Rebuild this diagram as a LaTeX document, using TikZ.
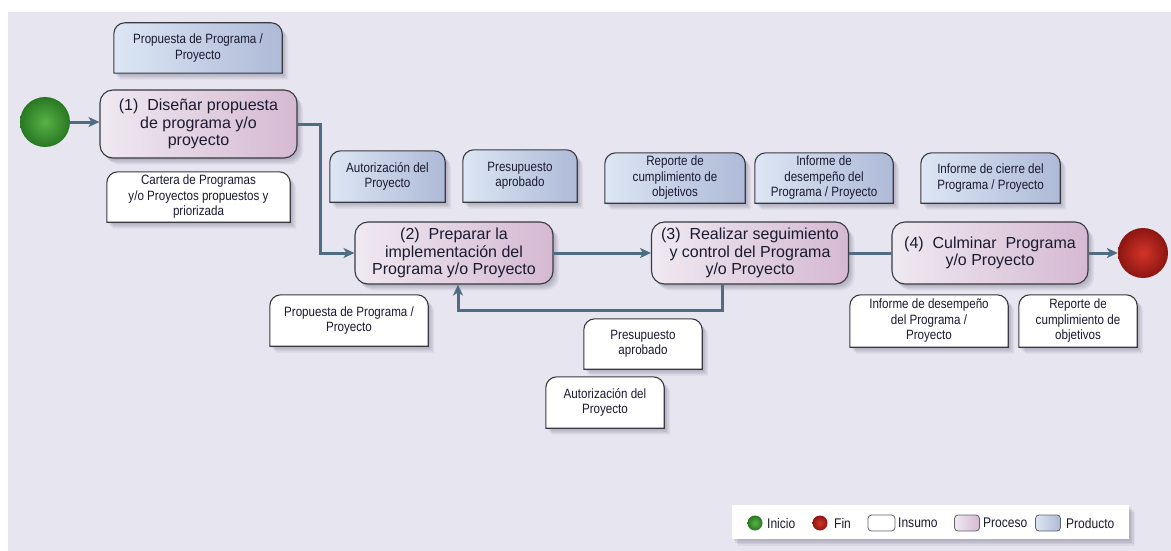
\documentclass[tikz,border=0pt]{standalone}
\usepackage{fontspec}
\setmainfont{Liberation Sans}
\newfontfamily\narrowsans{Liberation Sans}[FakeStretch=0.86]
\usetikzlibrary{arrows.meta}

\definecolor{bgfill}{HTML}{E7E5F0}
\definecolor{edge}{HTML}{3A3A42}
\definecolor{prodL}{HTML}{DCE6F4}
\definecolor{prodR}{HTML}{AEBAD7}
\definecolor{procL}{HTML}{EFE9F1}
\definecolor{procR}{HTML}{D5B9D2}
\definecolor{link}{HTML}{4E6C82}
\definecolor{ink}{HTML}{1A1A30}
\definecolor{shade}{HTML}{55556A}

\pgfdeclarelayer{back}
\pgfdeclarelayer{boxes}
\pgfsetlayers{back,boxes,main}

\tikzset{
  % soft drop shadow built from a few offset translucent copies
  softshadow/.style={
    preaction={fill=shade, opacity=.10, transform canvas={xshift=1.5pt, yshift=-2pt}},
    preaction={fill=shade, opacity=.10, transform canvas={xshift=3pt, yshift=-3.5pt}},
    preaction={fill=shade, opacity=.10, transform canvas={xshift=4.5pt, yshift=-5pt}},
    preaction={fill=shade, opacity=.08, transform canvas={xshift=6pt, yshift=-6.5pt}}},
  boxtext/.style={inner sep=0pt, align=center, text=ink,
      font=\narrowsans\fontsize{13.5}{15.5}\selectfont},
  process/.style={draw=edge, line width=1.1pt, rounded corners=13pt,
      left color=procL, right color=procR, softshadow, inner sep=0pt,
      align=center, text=ink, font=\fontsize{16}{17.5}\selectfont},
  prodfill/.style={left color=prodL, right color=prodR},
  inputfill/.style={fill=white},
  conn/.style={draw=link, line width=3pt},
  arrowed/.style={conn, -{Stealth[length=11pt,width=10pt,inset=3pt]}},
  legendtext/.style={anchor=west, inner sep=0pt, text=ink,
      font=\narrowsans\fontsize{14}{16}\selectfont},
  swatch/.style={draw=edge!80, line width=0.8pt, rounded corners=3.5pt,
      minimum width=25pt, minimum height=16pt, inner sep=0pt},
  startball/.style={circle, inner sep=0pt, inner color={rgb,255:red,88;green,178;blue,70},
      outer color={rgb,255:red,40;green,120;blue,34}},
  endball/.style={circle, inner sep=0pt, inner color={rgb,255:red,210;green,52;blue,42},
      outer color={rgb,255:red,140;green,22;blue,16}},
}

% box with rounded top corners and square bottom, drawn behind its text node
\newcommand\tabshape[2]{%
  \begin{pgfonlayer}{boxes}
    \path[draw=edge, line width=1.1pt, softshadow, #2]
      (#1.south west) -- ([yshift=-11pt]#1.north west)
      arc[start angle=180, end angle=90, radius=11pt]
      -- ([xshift=-11pt]#1.north east)
      arc[start angle=90, end angle=0, radius=11pt]
      -- (#1.south east) -- cycle;
  \end{pgfonlayer}}

\begin{document}
\begin{tikzpicture}[x=1pt, y=-1pt]
\useasboundingbox (0,0) rectangle (1171,551);
\begin{pgfonlayer}{back}
  \fill[bgfill] (8,12) rectangle (1171,551);
\end{pgfonlayer}

% start and end
\node[startball, minimum size=50pt] (start) at (45,122) {};
\node[endball, minimum size=50pt] (finish) at (1143,253) {};

% processes
\node[process, minimum width=197pt, minimum height=68pt] (b1) at (198.5,124)
  {(1)\ \ Diseñar propuesta\\de programa y/o\\proyecto};
\node[process, minimum width=198pt, minimum height=62pt] (b2) at (454,253)
  {(2)\ \ Preparar la\\implementación del\\Programa y/o Proyecto};
\node[process, minimum width=197pt, minimum height=62pt] (b3) at (750,253)
  {(3)\ \ Realizar seguimiento\\y control del Programa\\y/o Proyecto};
\node[process, minimum width=196pt, minimum height=62pt] (b4) at (990,253)
  {(4)\ \ Culminar\ \ Programa\\y/o Proyecto};

% products
\node[boxtext, minimum width=168pt, minimum height=50pt] (p0) at (198,48)
  {Propuesta de Programa /\\Proyecto};
\node[boxtext, minimum width=115pt, minimum height=51pt] (p1) at (387.5,176.5)
  {Autorización del\\Proyecto};
\node[boxtext, minimum width=114pt, minimum height=52pt] (p2) at (520,176)
  {Presupuesto\\aprobado};
\node[boxtext, minimum width=140pt, minimum height=50pt] (p3) at (675,178)
  {Reporte de\\cumplimiento de\\objetivos};
\node[boxtext, minimum width=138pt, minimum height=50pt] (p4) at (824,178)
  {Informe de\\desempeño del\\Programa / Proyecto};
\node[boxtext, minimum width=139pt, minimum height=50pt] (p5) at (990.5,178)
  {Informe de cierre del\\Programa / Proyecto};
\foreach \n in {p0,p1,p2,p3,p4,p5} {\tabshape{\n}{prodfill}}

% inputs
\node[boxtext, minimum width=183pt, minimum height=50pt] (i1) at (198.5,197)
  {Cartera de Programas\\y/o Proyectos propuestos y\\priorizada};
\node[boxtext, minimum width=158pt, minimum height=51pt] (i2) at (349,320.5)
  {Propuesta de Programa /\\Proyecto};
\node[boxtext, minimum width=118pt, minimum height=50pt] (i3) at (643,344)
  {Presupuesto\\aprobado};
\node[boxtext, minimum width=118pt, minimum height=51pt] (i4) at (605,402.5)
  {Autorización del\\Proyecto};
\node[boxtext, minimum width=158pt, minimum height=52pt] (i5) at (929,321)
  {Informe de desempeño\\del Programa /\\Proyecto};
\node[boxtext, minimum width=118pt, minimum height=52pt] (i6) at (1078,321)
  {Reporte de\\cumplimiento de\\objetivos};
\foreach \n in {i1,i2,i3,i4,i5,i6} {\tabshape{\n}{inputfill}}

% flow
\draw[arrowed] (start.east) -- (start.east -| b1.west);
\draw[arrowed] (b1.east) -- ++(23,0) |- (b2.west);
\draw[arrowed] (b2.east) -- (b3.west);
\draw[conn] (b3.east) -- (b4.west);
\draw[arrowed] (b4.east) -- (b4.east -| finish.west);
\draw[arrowed] ([xshift=-28pt]b3.south) -- ++(0,26) -| ([xshift=4pt]b2.south);

% legend
\begin{pgfonlayer}{boxes}
  \fill[white, softshadow] (732,505) rectangle (1129,539);
\end{pgfonlayer}
\node[startball, minimum size=15pt] (lgstart) at (755,523) {};
\node[legendtext] (lgstartt) at (767,523) {Inicio};
\node[endball, minimum size=15pt] (lgend) at (820,523) {};
\node[legendtext] (lgendt) at (834,523) {Fin};
\node[swatch, fill=white, minimum width=27pt] (lgin) at (881.5,523) {};
\node[legendtext] (lgint) at (898,523) {Insumo};
\node[swatch, left color=procL, right color=procR] (lgproc) at (967,523) {};
\node[legendtext] (lgproct) at (983,523) {Proceso};
\node[swatch, left color=prodL, right color=prodR] (lgprod) at (1048,523) {};
\node[legendtext] (lgprodt) at (1066,523) {Producto};
\end{tikzpicture}
\end{document}
